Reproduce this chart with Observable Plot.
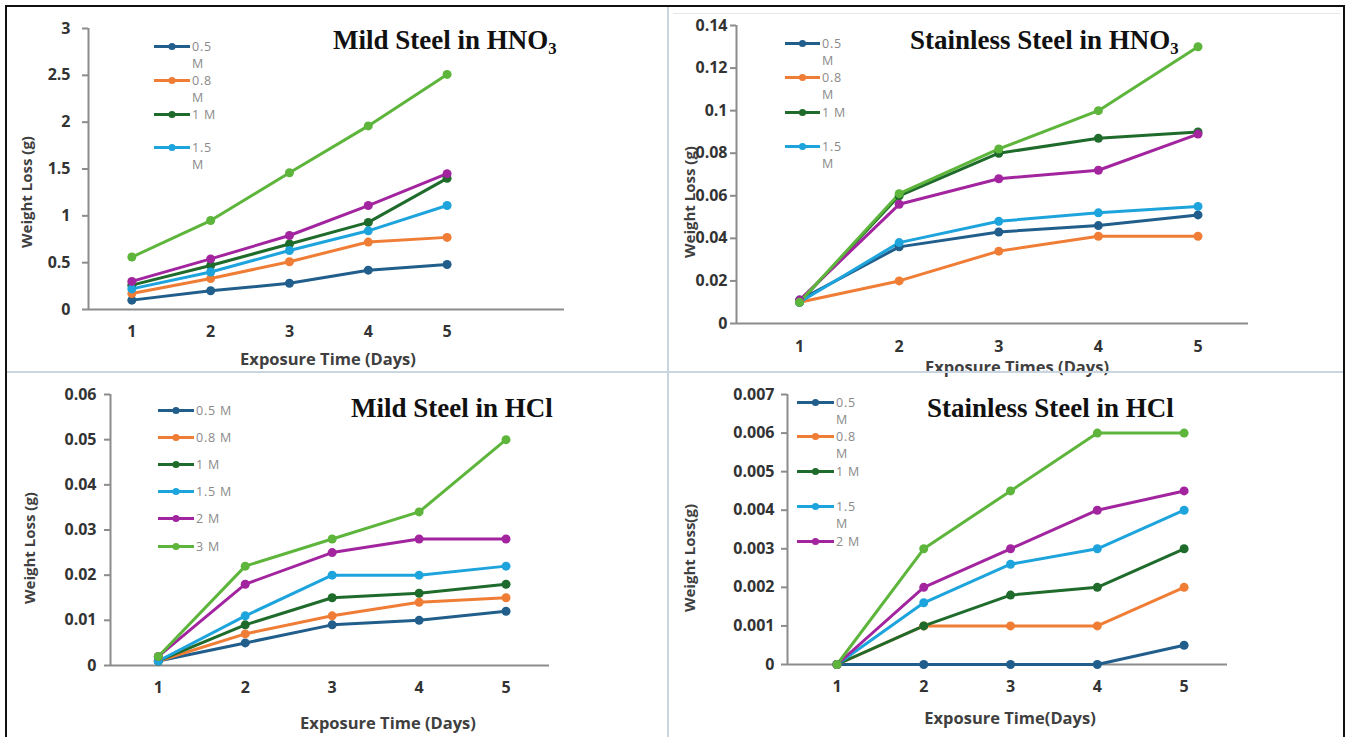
<!DOCTYPE html>
<html><head><meta charset="utf-8">
<script src="https://cdn.jsdelivr.net/npm/d3@7"></script>
<script src="https://cdn.jsdelivr.net/npm/@observablehq/plot@0.6"></script>
<style>
body{margin:0;background:#fff;}
#page{position:relative;width:1346px;height:737px;overflow:hidden;background:#fff;font-family:"Open Sans",sans-serif;}
.abs{position:absolute;}
.title{position:absolute;font-family:"Liberation Serif","Times New Roman",serif;font-weight:700;font-size:27px;line-height:27px;color:#111;white-space:nowrap;}
.title sub{font-size:0.62em;vertical-align:-0.28em;line-height:0;}
.axlabel{position:absolute;font-family:"Open Sans",sans-serif;font-weight:700;font-size:16.5px;color:#404040;white-space:nowrap;transform:translate(-50%,-50%);}
.ylabel{transform:translate(-50%,-50%) rotate(-90deg);}
.leg{position:absolute;display:flex;align-items:flex-start;}
.leg span{font-size:12.5px;line-height:17px;color:#8a8a8a;letter-spacing:0.8px;margin-left:2px;}
.plotbox{position:absolute;}
</style></head><body><div id="page"></div>
<script>
// ---- data ----
const days = [1, 2, 3, 4, 5];
const concentrations = ["0.5 M", "0.8 M", "1 M", "1.5 M", "2 M", "3 M"];
const seriesColors = ["#215e8b", "#f07d35", "#1f6b2b", "#1ea4dc", "#a2259f", "#5db53b"];

// rows follow the concentrations order
const mildHNO3 = [
  [0.10, 0.20, 0.28, 0.42, 0.48],
  [0.17, 0.33, 0.51, 0.72, 0.77],
  [0.26, 0.47, 0.70, 0.93, 1.40],
  [0.22, 0.40, 0.63, 0.84, 1.11],
  [0.30, 0.54, 0.79, 1.11, 1.45],
  [0.56, 0.95, 1.46, 1.96, 2.51]
];
const stainlessHNO3 = [
  [0.011, 0.036, 0.043, 0.046, 0.051],
  [0.010, 0.020, 0.034, 0.041, 0.041],
  [0.010, 0.060, 0.080, 0.087, 0.090],
  [0.010, 0.038, 0.048, 0.052, 0.055],
  [0.011, 0.056, 0.068, 0.072, 0.089],
  [0.010, 0.061, 0.082, 0.100, 0.130]
];
const mildHCl = [
  [0.001, 0.005, 0.009, 0.010, 0.012],
  [0.001, 0.007, 0.011, 0.014, 0.015],
  [0.001, 0.009, 0.015, 0.016, 0.018],
  [0.001, 0.011, 0.020, 0.020, 0.022],
  [0.002, 0.018, 0.025, 0.028, 0.028],
  [0.002, 0.022, 0.028, 0.034, 0.050]
];
const stainlessHCl = [
  [0, 0, 0, 0, 0.0005],
  [0, 0.001, 0.001, 0.001, 0.002],
  [0, 0.001, 0.0018, 0.002, 0.003],
  [0, 0.0016, 0.0026, 0.003, 0.004],
  [0, 0.002, 0.003, 0.004, 0.0045],
  [0, 0.003, 0.0045, 0.006, 0.006]
];

const ticksMildHNO3 = [0, 0.5, 1, 1.5, 2, 2.5, 3];
const ticksStainlessHNO3 = [0, 0.02, 0.04, 0.06, 0.08, 0.1, 0.12, 0.14];
const ticksMildHCl = [0, 0.01, 0.02, 0.03, 0.04, 0.05, 0.06];
const ticksStainlessHCl = [0, 0.001, 0.002, 0.003, 0.004, 0.005, 0.006, 0.007];

const titles = [["Mild Steel in HNO", "3"], ["Stainless Steel in HNO", "3"], ["Mild Steel in HCl", ""], ["Stainless Steel in HCl", ""]];
const xLabels = ["Exposure Time (Days)", "Exposure Times (Days)", "Exposure Time (Days)", "Exposure Time(Days)"];
const yLabels = ["Weight Loss (g)", "Weight Loss (g)", "Weight Loss (g)", "Weight Loss(g)"];
const legendCounts = [4, 4, 6, 5];

// ---- layout ----
const panels = [
  {values: mildHNO3, ticks: ticksMildHNO3, left: 0, top: 0, w: 668, h: 372, ml: 88, mr: 104, mt: 28, mb: 63,
   xDomain: [0.45, 6.49], yDomain: [0, 3], yPad: 12, xPad: 16,
   title: [333, 27], xl: [328, 358], yl: [26, 192], yfs: 15,
   leg: {x: 154, w: 36, y0: 46.7, dy: 33.7, wrap: true}},
  {values: stainlessHNO3, ticks: ticksStainlessHNO3, left: 668, top: 0, w: 678, h: 372, ml: 68, mr: 98, mt: 25, mb: 49,
   xDomain: [0.367, 5.507], yDomain: [0, 0.14], yPad: 3, xPad: 17,
   title: [910, 27], xl: [1017, 366], yl: [689, 202], yfs: 15,
   leg: {x: 785, w: 35, y0: 43, dy: 34.6, wrap: true}},
  {values: mildHCl, ticks: ticksMildHCl, left: 0, top: 372, w: 668, h: 365, ml: 110, mr: 119, mt: 22, mb: 72,
   xDomain: [0.45, 5.5], yDomain: [0, 0.06], yPad: 8, xPad: 16,
   title: [351, 395], xl: [388, 722], yl: [29, 548], yfs: 15,
   leg: {x: 158, w: 36, y0: 410, dy: 27.2, wrap: false}},
  {values: stainlessHCl, ticks: ticksStainlessHCl, left: 668, top: 372, w: 678, h: 365, ml: 119, mr: 119, mt: 22, mb: 73,
   xDomain: [0.43, 5.5], yDomain: [0, 0.007], yPad: 7, xPad: 16,
   title: [927, 395], xl: [1010, 717], yl: [689, 558], yfs: 15,
   leg: {x: 797, w: 37, y0: 402, dy: 34.8, wrap: true}}
];

const page = document.getElementById("page");
const fmt = d => String(+(+d).toFixed(4));

panels.forEach((p, k) => {
  const rows = [];
  p.values.forEach((vals, i) => vals.forEach((v, j) => rows.push({day: days[j], value: v, conc: concentrations[i]})));
  const chart = Plot.plot({
    width: p.w, height: p.h,
    marginLeft: p.ml, marginRight: p.mr, marginTop: p.mt, marginBottom: p.mb,
    style: {fontFamily: '"Open Sans",sans-serif', fontSize: "16px", fontWeight: "700", color: "#404040", background: "transparent", overflow: "visible"},
    x: {domain: p.xDomain, label: null},
    y: {domain: p.yDomain, label: null},
    color: {domain: concentrations, range: seriesColors},
    marks: [
      Plot.ruleY([p.yDomain[0]], {stroke: "#8c8c8c", strokeWidth: 2}),
      Plot.ruleX([p.xDomain[0]], {stroke: "#8c8c8c", strokeWidth: 2}),
      Plot.axisY(p.ticks, {tickSize: 6, tickPadding: p.yPad, tickFormat: fmt, label: null, stroke: "#8c8c8c", strokeWidth: 2, fill: "#333", fontSize: 16, fontWeight: 700}),
      Plot.axisX(days, {tickSize: 0, tickPadding: p.xPad, label: null, fill: "#333", fontSize: 16, fontWeight: 700}),
      Plot.line(rows, {x: "day", y: "value", z: "conc", stroke: "conc", strokeWidth: 3}),
      Plot.dot(rows, {x: "day", y: "value", fill: "conc", r: 4.5})
    ]
  });
  const box = document.createElement("div");
  box.className = "plotbox";
  box.style.left = p.left + "px";
  box.style.top = p.top + "px";
  box.appendChild(chart);
  page.appendChild(box);

  // title
  const t = document.createElement("div");
  t.className = "title";
  t.style.left = p.title[0] + "px";
  t.style.top = p.title[1] + "px";
  t.innerHTML = titles[k][0] + (titles[k][1] ? "<sub>" + titles[k][1] + "</sub>" : "");
  page.appendChild(t);

  // axis labels
  const xl = document.createElement("div");
  xl.className = "axlabel";
  xl.style.left = p.xl[0] + "px";
  xl.style.top = p.xl[1] + "px";
  xl.textContent = xLabels[k];
  page.appendChild(xl);
  const yl = document.createElement("div");
  yl.className = "axlabel ylabel";
  yl.style.left = p.yl[0] + "px";
  yl.style.top = p.yl[1] + "px";
  yl.style.fontSize = p.yfs + "px";
  yl.textContent = yLabels[k];
  page.appendChild(yl);

  // legend
  for (let i = 0; i < legendCounts[k]; i++) {
    const L = p.leg;
    const row = document.createElement("div");
    row.className = "leg";
    row.style.left = L.x + "px";
    row.style.top = (L.y0 - 8.5 + i * L.dy) + "px";
    const c = seriesColors[i];
    row.innerHTML = `<svg width="${L.w}" height="17"><line x1="0" x2="${L.w}" y1="8.5" y2="8.5" stroke="${c}" stroke-width="3"/><circle cx="${L.w / 2}" cy="8.5" r="3.6" fill="${c}"/></svg>`;
    const s = document.createElement("span");
    const lab = concentrations[i];
    s.innerHTML = (L.wrap && lab.length > 3) ? lab.replace(" ", "<br>") : lab;
    row.appendChild(s);
    page.appendChild(row);
  }
});

// frame and dividers
const addDiv = (css) => { const d = document.createElement("div"); d.className = "abs"; Object.assign(d.style, css); page.appendChild(d); };
addDiv({left: "667px", top: "6px", width: "2px", height: "731px", background: "#c9d5e1"});
addDiv({left: "6px", top: "371px", width: "1337px", height: "2px", background: "#c9d5e1"});
addDiv({left: "673px", top: "13px", width: "667px", height: "1px", background: "#e4e8ec"});
addDiv({left: "5px", top: "5px", width: "1336px", height: "740px", border: "2px solid #111", borderBottom: "none"});
</script></body></html>
